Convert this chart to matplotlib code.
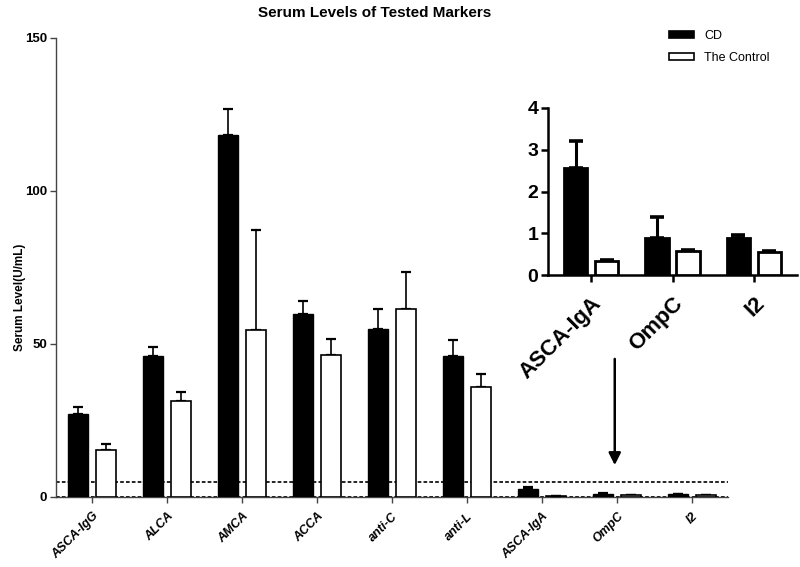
import numpy as np
import matplotlib
matplotlib.use("Agg")
import matplotlib.pyplot as plt
from matplotlib.patches import Patch

plt.rcParams['font.family'] = ['Liberation Sans', 'DejaVu Sans']

# ---- data ----
categories = ["ASCA-IgG", "ALCA", "AMCA", "ACCA", "anti-C", "anti-L", "ASCA-IgA", "OmpC", "I2"]
cd_mean = [27.1, 46.0, 118.1, 59.8, 55.0, 46.1, 2.57, 0.88, 0.88]
cd_upper = [29.5, 49.1, 126.7, 64.0, 61.4, 51.2, 3.21, 1.40, 0.95]
ctrl_mean = [15.3, 31.5, 54.5, 46.3, 61.5, 35.8, 0.33, 0.58, 0.54]
ctrl_upper = [17.2, 34.4, 87.3, 51.5, 73.6, 40.2, 0.37, 0.61, 0.58]
yticks_main = [0, 50, 100, 150]
inset_cats = ["ASCA-IgA", "OmpC", "I2"]
inset_yticks = [0, 1, 2, 3, 4]
ref_lines = [0, 5]

fig = plt.figure(figsize=(8, 5.67), dpi=100)

# ---- main axes ----
ax = fig.add_axes([0.07, 0.1235, 0.84, 0.81])
x = np.arange(len(categories))
w = 0.26
off = 0.185
cd_mean_a = np.array(cd_mean)
ctrl_mean_a = np.array(ctrl_mean)
for yv in ref_lines:
    ax.axhline(yv, color='black', lw=1.2, ls=(0, (2.2, 1.3)), zorder=1)
ax.bar(x - off, cd_mean, w, color='black', edgecolor='black', lw=1, zorder=3)
ax.bar(x + off, ctrl_mean, w, color='white', edgecolor='black', lw=1.2, zorder=3)
ax.errorbar(x - off, cd_mean, yerr=[np.zeros(len(x)), np.array(cd_upper) - cd_mean_a],
            fmt='none', ecolor='black', elinewidth=1.2, capsize=3.6, capthick=1.6, zorder=2)
ax.errorbar(x + off, ctrl_mean, yerr=[np.zeros(len(x)), np.array(ctrl_upper) - ctrl_mean_a],
            fmt='none', ecolor='black', elinewidth=1.2, capsize=3.6, capthick=1.6, zorder=2)
ax.set_xlim(-0.48, 8.48)
ax.set_ylim(0, 150)
ax.set_yticks(yticks_main)
ax.set_yticklabels([str(v) for v in yticks_main], fontsize=9.5, fontweight='bold')
ax.set_xticks(x)
ax.set_xticklabels(categories, rotation=45, ha='right', rotation_mode='anchor',
                   fontsize=9, fontweight='bold', fontstyle='italic')
for s in ['top', 'right']:
    ax.spines[s].set_visible(False)
for s in ['left', 'bottom']:
    ax.spines[s].set_color('#444444')
    ax.spines[s].set_linewidth(1.0)
ax.tick_params(axis='both', direction='out', length=4.5, width=1, color='#444444', pad=2)
ax.tick_params(axis='x', pad=5)
ax.spines['bottom'].set_zorder(0)

# arrow
ax.annotate('', xy=(6.97, 9.5), xytext=(6.97, 46),
            arrowprops=dict(arrowstyle='-|>', lw=1.8, color='black', mutation_scale=18))

fig.text(20 / 800, 1 - 297 / 567, "Serum Level(U/mL)", rotation=90, ha='center', va='center',
         fontsize=8.5, fontweight='bold')
fig.text(375 / 800, 1 - 13 / 567, "Serum Levels of Tested Markers", ha='center', va='center',
         fontsize=11, fontweight='bold')

# legend
handles = [Patch(facecolor='black', edgecolor='black', lw=1.2, label='CD'),
           Patch(facecolor='white', edgecolor='black', lw=1.2, label='The Control')]
fig.legend(handles=handles, loc='upper left', bbox_to_anchor=(658 / 800, 1 - 19 / 567),
           frameon=False, fontsize=9, handlelength=2.0, handleheight=0.45,
           handletextpad=0.8, labelspacing=0.75)

# ---- inset ----
ai = fig.add_axes([548 / 800, (567 - 275) / 567, 249 / 800, 167 / 567])
xi = np.arange(len(inset_cats))
iw = 0.29
ioff = 0.19
i_cd = cd_mean[6:]
i_cd_up = cd_upper[6:]
i_ct = ctrl_mean[6:]
i_ct_up = ctrl_upper[6:]
ai.bar(xi - ioff, i_cd, iw, color='black', edgecolor='black', lw=2, zorder=3)
ai.bar(xi + ioff, i_ct, iw, color='white', edgecolor='black', lw=2, zorder=3)
ai.errorbar(xi - ioff, i_cd, yerr=[np.zeros(3), np.array(i_cd_up) - np.array(i_cd)],
            fmt='none', ecolor='black', elinewidth=2.2, capsize=5, capthick=2.6, zorder=2)
ai.errorbar(xi + ioff, i_ct, yerr=[np.zeros(3), np.array(i_ct_up) - np.array(i_ct)],
            fmt='none', ecolor='black', elinewidth=2.2, capsize=5, capthick=2.6, zorder=2)
ai.set_xlim(-0.53, 2.53)
ai.set_ylim(0, 4)
ai.set_yticks(inset_yticks)
ai.set_yticklabels([str(v) for v in inset_yticks], fontsize=14, fontweight='bold')
ai.set_xticks(xi)
ai.set_xticklabels(inset_cats, rotation=45, ha='right', rotation_mode='anchor',
                   fontsize=16, fontweight='bold')
for s in ['top', 'right']:
    ai.spines[s].set_visible(False)
for s in ['left', 'bottom']:
    ai.spines[s].set_linewidth(1.8)
ai.tick_params(axis='both', direction='out', length=5, width=1.8, pad=2)
ai.tick_params(axis='x', pad=8)
ai.patch.set_alpha(0)

fig.savefig("out.png", dpi=100)
